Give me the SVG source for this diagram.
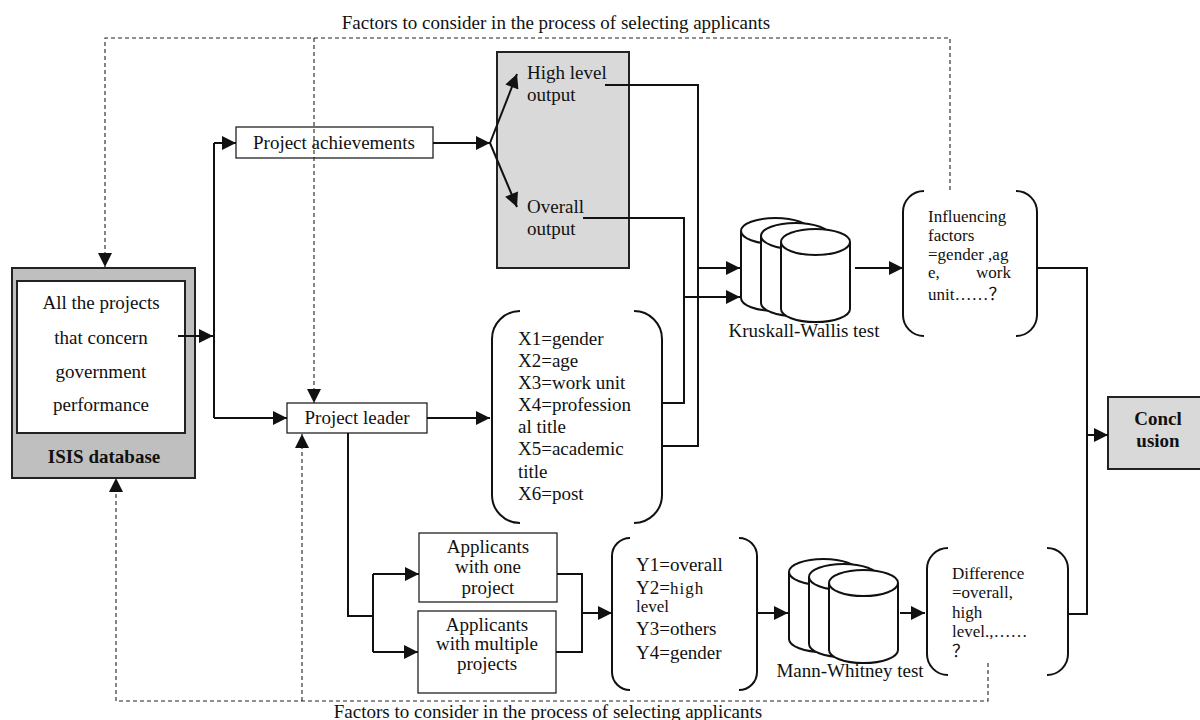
<svg xmlns="http://www.w3.org/2000/svg" width="1200" height="720" viewBox="0 0 1200 720">
<defs>
<style>
text{font-family:"Liberation Serif","Times New Roman","Noto Sans CJK SC",serif;font-size:19px;fill:#111}
.b{font-weight:bold}
.s{font-size:17px}
.box{fill:#fff;stroke:#222;stroke-width:1.3}
.gray{fill:#d9d9d9;stroke:#222;stroke-width:2}
.br{fill:none;stroke:#111;stroke-width:2}
.cyl{fill:#fff;stroke:#111;stroke-width:2}
.c{fill:none;stroke:#111;stroke-width:2}
.d{fill:none;stroke:#222;stroke-width:1.1;stroke-dasharray:4 3}
</style>
<marker id="ah" viewBox="0 0 10 10" refX="10" refY="5" markerWidth="15" markerHeight="14" markerUnits="userSpaceOnUse" orient="auto"><path d="M0,0 L10,5 L0,10 z" fill="#111"/></marker>
<marker id="ahd" viewBox="0 0 10 10" refX="10" refY="5" markerWidth="14" markerHeight="15" markerUnits="userSpaceOnUse" orient="auto"><path d="M0,0 L10,5 L0,10 z" fill="#111"/></marker>
</defs>

<text x="556" y="29" text-anchor="middle">Factors to consider in the process of selecting applicants</text>
<text x="548" y="718" text-anchor="middle">Factors to consider in the process of selecting applicants</text>

<g id="isis">
<rect x="12" y="268" width="183" height="210" fill="#bfbfbf" stroke="#222" stroke-width="2"/>
<rect x="17" y="281" width="168" height="152" fill="#fff" stroke="#222" stroke-width="2"/>
<text x="101" y="309" text-anchor="middle">All the projects</text>
<text x="101" y="344" text-anchor="middle">that concern</text>
<text x="101" y="378" text-anchor="middle">government</text>
<text x="101" y="411" text-anchor="middle">performance</text>
<text x="104" y="463" text-anchor="middle" class="b">ISIS database</text>
</g>

<g id="project-achievements">
<rect class="box" x="236" y="127" width="197" height="31"/>
<text x="334" y="149" text-anchor="middle">Project achievements</text>
</g>

<g id="outputs">
<rect class="gray" x="497" y="52" width="132" height="216"/>
<text x="527" y="79">High level</text>
<text x="527" y="101">output</text>
<text x="527" y="213">Overall</text>
<text x="527" y="235">output</text>
</g>

<g id="project-leader">
<rect class="box" x="287" y="403" width="140" height="30"/>
<text x="357" y="424" text-anchor="middle">Project leader</text>
</g>

<g id="x-vars">
<path class="br" d="M520,311 A28,28 0 0 0 492,339 V495 A28,28 0 0 0 520,523"/>
<path class="br" d="M634,311 A28,28 0 0 1 662,339 V495 A28,28 0 0 1 634,523"/>
<text x="518" y="345">X1=gender</text>
<text x="518" y="367">X2=age</text>
<text x="518" y="389">X3=work unit</text>
<text x="518" y="411">X4=profession</text>
<text x="518" y="433">al title</text>
<text x="518" y="455">X5=academic</text>
<text x="518" y="478">title</text>
<text x="518" y="500">X6=post</text>
</g>

<g id="kruskall-wallis">
<path class="cyl" d="M741,231 V298 A34.5,13 0 0 0 810,298 V231"/>
<ellipse class="cyl" cx="775.5" cy="231" rx="34.5" ry="13"/>
<path class="cyl" d="M761,236 V303 A34.5,13 0 0 0 830,303 V236"/>
<ellipse class="cyl" cx="795.5" cy="236" rx="34.5" ry="13"/>
<path class="cyl" d="M781,242 V309 A34.5,13 0 0 0 850,309 V242"/>
<ellipse class="cyl" cx="815.5" cy="242" rx="34.5" ry="13"/>
<text x="804" y="337" text-anchor="middle">Kruskall-Wallis test</text>
</g>

<g id="influencing">
<path class="br" d="M924,191 A21,21 0 0 0 903,212 V315 A21,21 0 0 0 924,336"/>
<path class="br" d="M1016,191 A21,21 0 0 1 1037,212 V315 A21,21 0 0 1 1016,336"/>
<text class="s" x="928" y="222">Influencing</text>
<text class="s" x="928" y="241">factors</text>
<text class="s" x="928" y="260">=gender  ,ag</text>
<text class="s" x="928" y="278">e,</text>
<text class="s" x="1011" y="278" text-anchor="end">work</text>
<text class="s" x="928" y="300">unit……？</text>
</g>

<g id="conclusion">
<rect class="gray" x="1108" y="397" width="100" height="72"/>
<text x="1158" y="425" text-anchor="middle" class="b">Concl</text>
<text x="1158" y="447" text-anchor="middle" class="b">usion</text>
</g>

<g id="applicants-one">
<rect class="box" x="419" y="533" width="138" height="69"/>
<text x="488" y="553" text-anchor="middle">Applicants</text>
<text x="488" y="573" text-anchor="middle">with one</text>
<text x="488" y="594" text-anchor="middle">project</text>
</g>

<g id="applicants-multiple">
<rect class="box" x="418" y="611" width="138" height="82"/>
<text x="487" y="631" text-anchor="middle">Applicants</text>
<text x="487" y="650" text-anchor="middle">with multiple</text>
<text x="487" y="670" text-anchor="middle">projects</text>
</g>

<g id="y-vars">
<path class="br" d="M630,538 A18,18 0 0 0 612,556 V672 A18,18 0 0 0 630,690"/>
<path class="br" d="M739,538 A18,18 0 0 1 757,556 V672 A18,18 0 0 1 739,690"/>
<text x="636" y="571">Y1=overall</text>
<text x="636" y="594">Y2=<tspan class="s" letter-spacing="1">high</tspan></text>
<text class="s" x="636" y="612">level</text>
<text x="636" y="635">Y3=others</text>
<text x="636" y="659">Y4=gender</text>
</g>

<g id="mann-whitney">
<path class="cyl" d="M789,572 V639 A34.5,13 0 0 0 858,639 V572"/>
<ellipse class="cyl" cx="823.5" cy="572" rx="34.5" ry="13"/>
<path class="cyl" d="M809,577 V644 A34.5,13 0 0 0 878,644 V577"/>
<ellipse class="cyl" cx="843.5" cy="577" rx="34.5" ry="13"/>
<path class="cyl" d="M829,583 V650 A34.5,13 0 0 0 898,650 V583"/>
<ellipse class="cyl" cx="863.5" cy="583" rx="34.5" ry="13"/>
<text x="850" y="677" text-anchor="middle">Mann-Whitney test</text>
</g>

<g id="difference">
<path class="br" d="M948,548 A21,21 0 0 0 927,569 V654 A21,21 0 0 0 948,675"/>
<path class="br" d="M1047,548 A21,21 0 0 1 1068,569 V654 A21,21 0 0 1 1047,675"/>
<text class="s" x="952" y="579">Difference</text>
<text class="s" x="952" y="598">=overall,</text>
<text class="s" x="952" y="618">high</text>
<text class="s" x="952" y="637">level.,……</text>
<text class="s" x="952" y="657">？</text>
</g>

<g id="connectors">
<path class="c" d="M178,336 H213" marker-end="url(#ah)"/>
<path class="c" d="M214,143 V418"/>
<path class="c" d="M214,143 H236" marker-end="url(#ah)"/>
<path class="c" d="M214,418 H287" marker-end="url(#ah)"/>
<path class="c" d="M433,143 H490" marker-end="url(#ah)"/>
<path class="c" d="M490,143 L517,74" marker-end="url(#ah)"/>
<path class="c" d="M490,143 L517,207" marker-end="url(#ah)"/>
<path class="c" d="M605,85 H698 V446 H662"/>
<path class="c" d="M583,218 H684 V403 H662"/>
<path class="c" d="M698,268 H740" marker-end="url(#ah)"/>
<path class="c" d="M684,297 H740" marker-end="url(#ah)"/>
<path class="c" d="M855,268 H903" marker-end="url(#ah)"/>
<path class="c" d="M1037,268 H1087 V614 H1068"/>
<path class="c" d="M1087,435 H1108" marker-end="url(#ah)"/>
<path class="c" d="M427,418 H490" marker-end="url(#ah)"/>
<path class="c" d="M348,433 V616 H373"/>
<path class="c" d="M373,574 V652"/>
<path class="c" d="M373,574 H419" marker-end="url(#ah)"/>
<path class="c" d="M373,652 H418" marker-end="url(#ah)"/>
<path class="c" d="M557,574 H582 V652 H556"/>
<path class="c" d="M582,613 H612" marker-end="url(#ah)"/>
<path class="c" d="M757,613 H788" marker-end="url(#ah)"/>
<path class="c" d="M900,613 H925" marker-end="url(#ah)"/>
<path class="d" d="M950,190 V38 H105 V267" marker-end="url(#ahd)"/>
<path class="d" d="M314,38 V403" marker-end="url(#ahd)"/>
<path class="d" d="M988,663 V701 H116 V478" marker-end="url(#ahd)"/>
<path class="d" d="M302,701 V434" marker-end="url(#ahd)"/>
</g>
</svg>
